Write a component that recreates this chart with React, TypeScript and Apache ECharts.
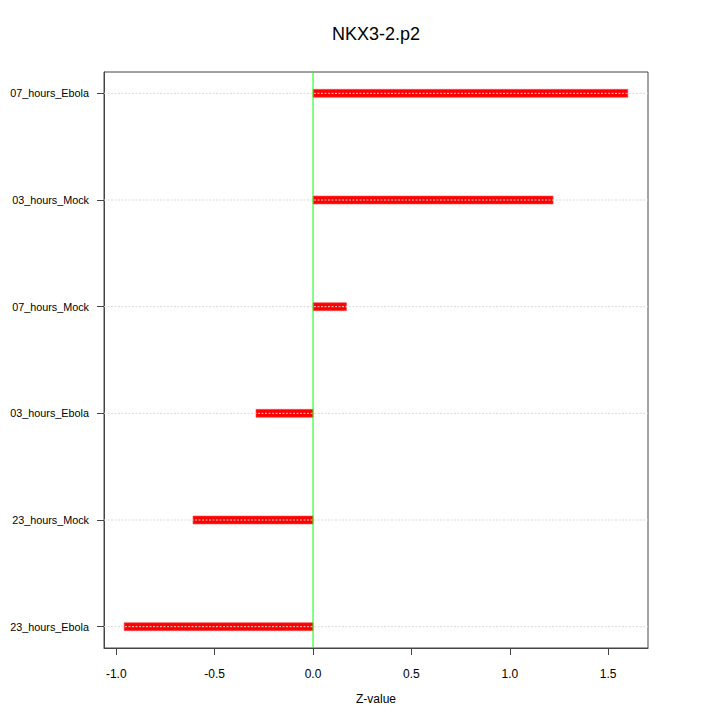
import React, { useEffect, useRef } from "react";
import * as echarts from "echarts";

// bottom-to-top order (positions 1..6)
const categories = [
  "23_hours_Ebola",
  "23_hours_Mock",
  "03_hours_Ebola",
  "07_hours_Mock",
  "03_hours_Mock",
  "07_hours_Ebola",
];
const zValues = [-0.96, -0.61, -0.29, 0.17, 1.22, 1.6];
const xTicks = [-1.0, -0.5, 0.0, 0.5, 1.0, 1.5];
const positions = [1, 2, 3, 4, 5, 6];
const X_MIN = -1.0624;
const X_MAX = 1.7024;
const Y_MIN = 0.8;
const Y_MAX = 6.2;

export default function App() {
  const ref = useRef<HTMLDivElement>(null);
  useEffect(() => {
    if (!ref.current) return;
    const chart = echarts.init(ref.current, null, { renderer: "svg" });
    const font = "Liberation Sans, Arial, Helvetica, sans-serif";
    chart.setOption({
      animation: false,
      backgroundColor: "#ffffff",
      graphic: [
        {
          type: "text",
          x: 376,
          y: 34,
          style: {
            text: "NKX3-2.p2",
            align: "center",
            verticalAlign: "middle",
            fontFamily: font,
            fontSize: 18,
            fill: "#000",
          },
        },
      ],
      grid: {
        left: 104,
        right: 72,
        top: 72,
        bottom: 72,
        show: true,
        borderColor: "#444",
        borderWidth: 1,
        backgroundColor: "transparent",
      },
      xAxis: {
        type: "value",
        min: X_MIN,
        max: X_MAX,
        name: "Z-value",
        nameLocation: "middle",
        nameGap: 45,
        nameTextStyle: { fontFamily: font, fontSize: 12, color: "#000" },
        axisLine: { show: true, onZero: false, lineStyle: { color: "#444" } },
        axisTick: { show: true, inside: false, length: 7, customValues: xTicks, lineStyle: { color: "#444" } },
        axisLabel: {
          customValues: xTicks,
          margin: 20,
          fontFamily: font,
          fontSize: 12,
          color: "#000",
          formatter: (v: number) => v.toFixed(1),
        },
        splitLine: { show: false },
      },
      yAxis: {
        type: "value",
        min: Y_MIN,
        max: Y_MAX,
        axisLine: { show: true, onZero: false, lineStyle: { color: "#444" } },
        axisTick: { show: true, inside: false, length: 7, customValues: positions, lineStyle: { color: "#444" } },
        axisLabel: {
          customValues: positions,
          margin: 15,
          fontFamily: font,
          fontSize: 10.8,
          color: "#000",
          formatter: (v: number) => categories[Math.round(v) - 1] ?? "",
        },
        splitLine: { show: false },
      },
      series: [
        {
          type: "custom",
          z: 1,
          data: zValues.map((v, i) => [v, positions[i]]),
          renderItem: (params: any, api: any) => {
            const v = api.value(0);
            const p = api.value(1);
            const a = api.coord([0, p]);
            const b = api.coord([v, p]);
            const x0 = Math.min(a[0], b[0]);
            const w = Math.abs(b[0] - a[0]);
            return {
              type: "rect",
              shape: { x: x0, y: a[1] - 4, width: w, height: 8 },
              style: { fill: "#ff0000", stroke: "#ff5050", lineWidth: 0.6 },
            };
          },
        },
        {
          type: "custom",
          z: 2,
          data: positions.map((p) => [p]),
          renderItem: (params: any, api: any) => {
            const p = api.value(0);
            const a = api.coord([X_MIN, p]);
            const b = api.coord([X_MAX, p]);
            return {
              type: "line",
              shape: { x1: a[0], y1: a[1], x2: b[0], y2: b[1] },
              style: { stroke: "#d8d8d8", lineWidth: 1, lineDash: [2, 1.5] },
            };
          },
        },
        {
          type: "line",
          z: 3,
          data: [
            [0, Y_MIN],
            [0, Y_MAX],
          ],
          symbol: "none",
          lineStyle: { color: "#00ff00", width: 1 },
        },
      ],
    });
    return () => chart.dispose();
  }, []);
  return (
    <div
      ref={ref}
      style={{ position: "absolute", left: 0, top: 0, width: 720, height: 720 }}
    />
  );
}
